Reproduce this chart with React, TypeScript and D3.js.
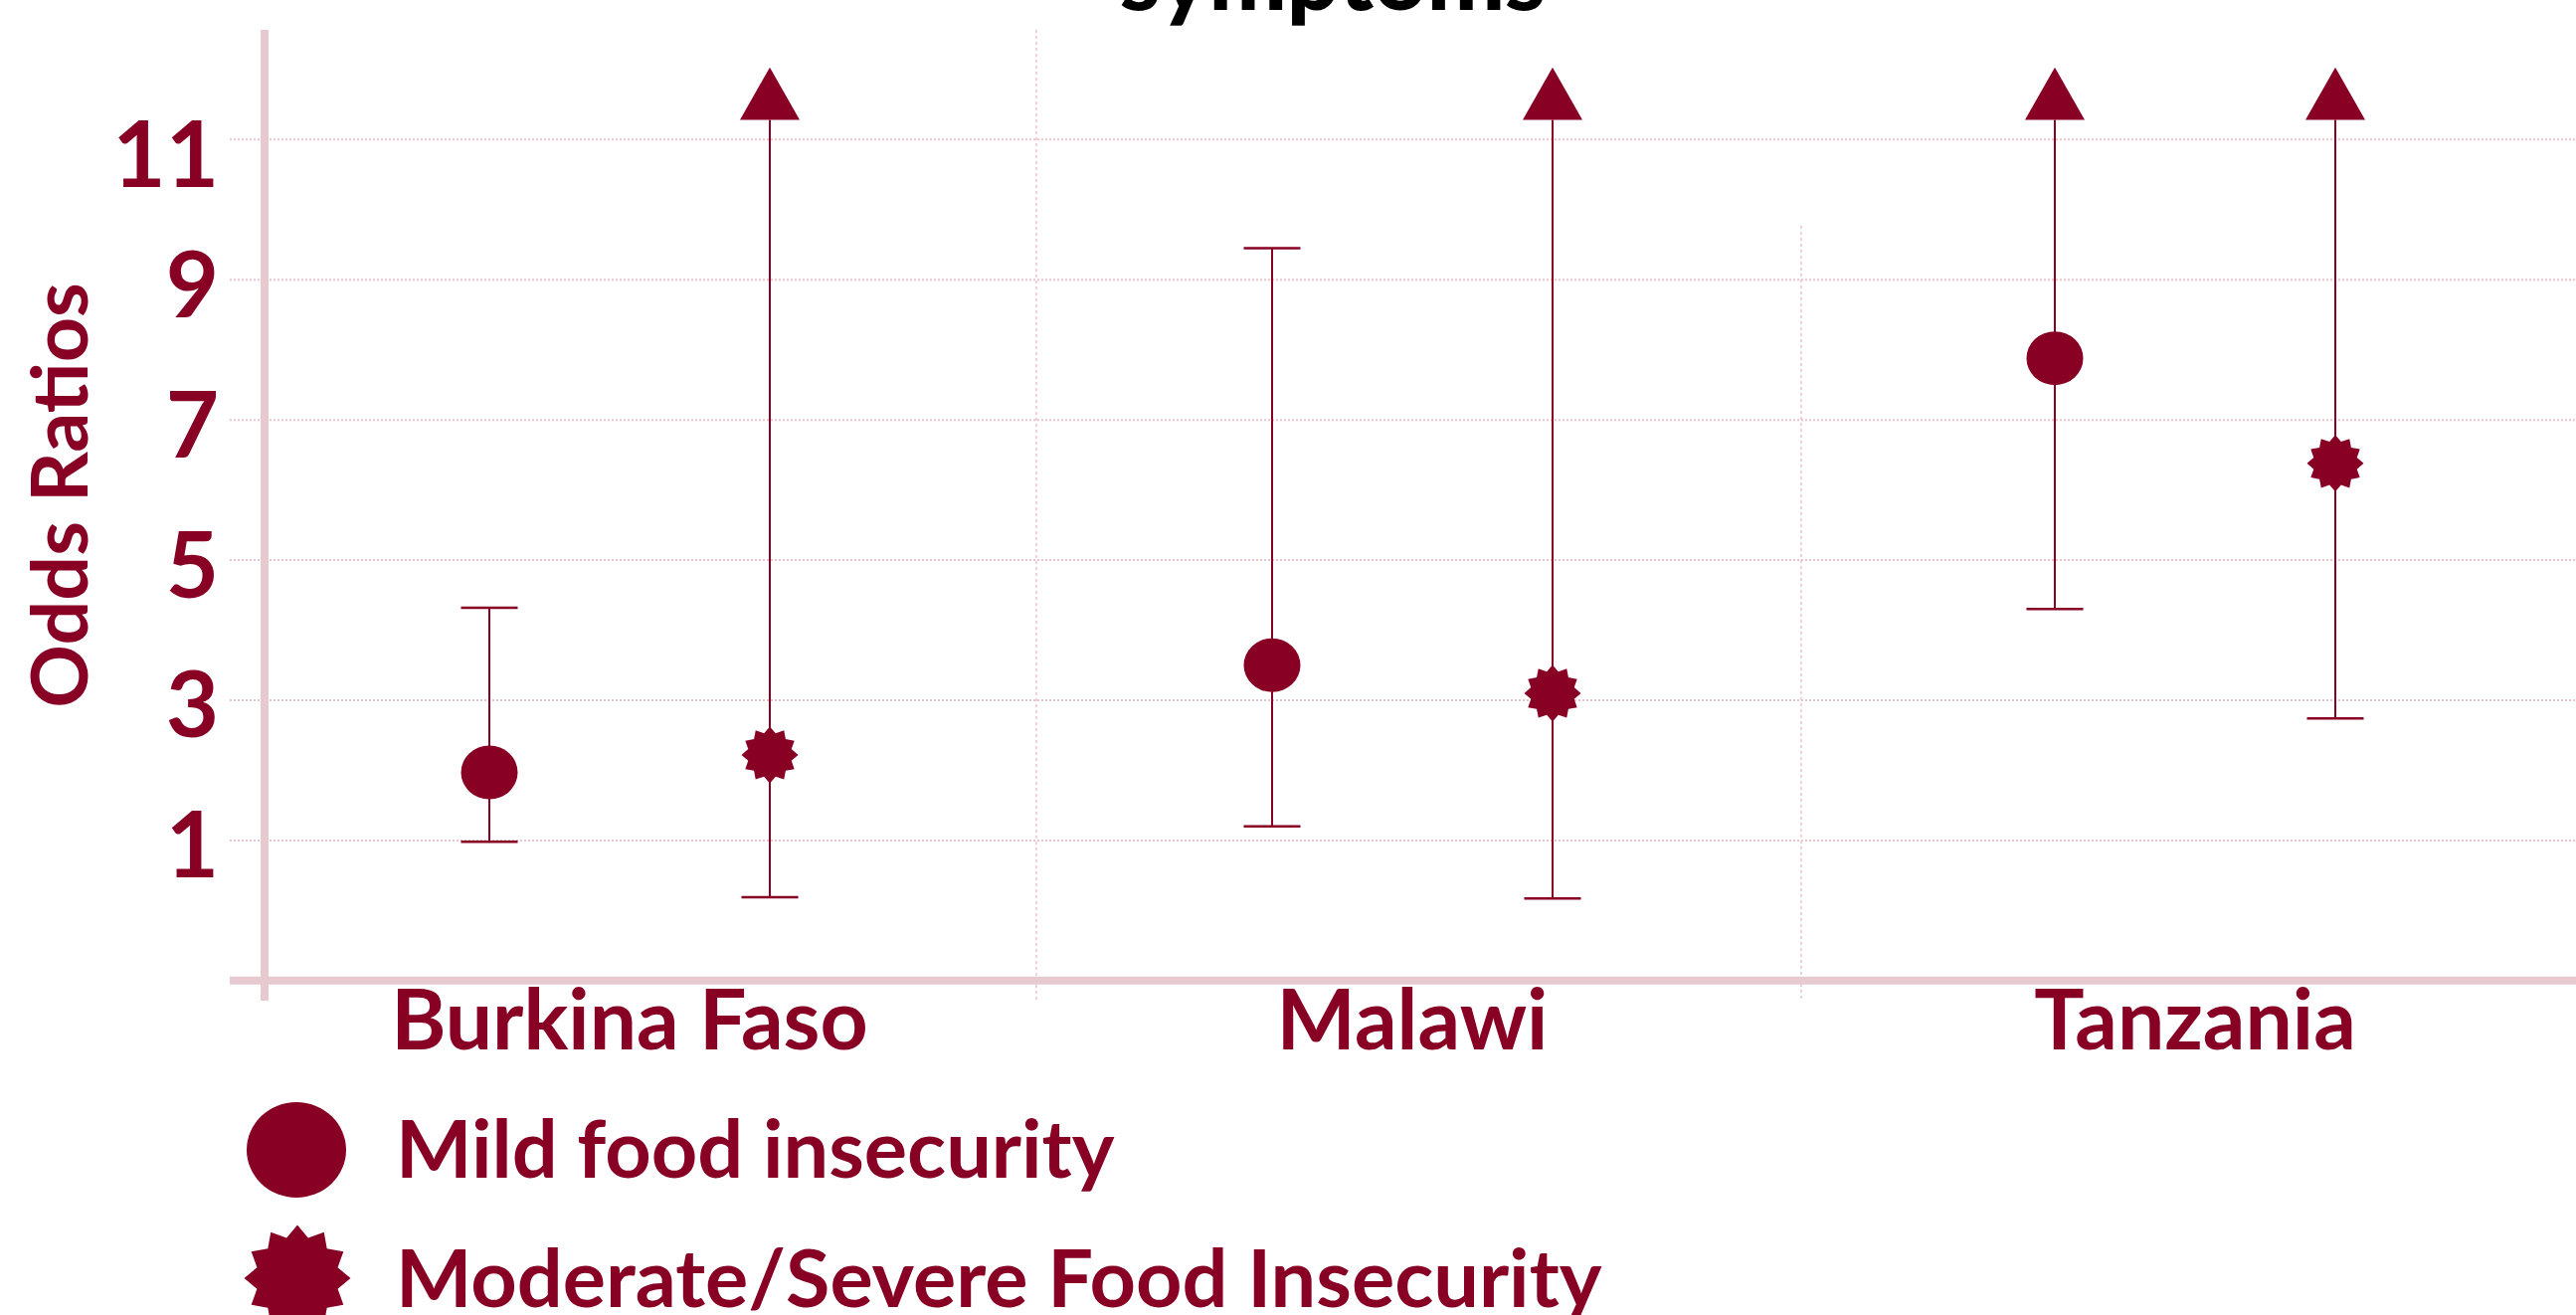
import React from "react";
import * as d3 from "d3";

const categories = ["Burkina Faso", "Malawi", "Tanzania"];
const mildOR = [1.97, 3.5, 7.88];
const mildLower = [0.98, 1.2, 4.3];
const mildUpper: (number | null)[] = [4.32, 9.45, null];
const modOR = [2.22, 3.1, 6.38];
const modLower = [0.19, 0.17, 2.74];
const modUpper: (number | null)[] = [null, null, null];
const yTicks = [1, 3, 5, 7, 9, 11];
const legendLabels = ["Mild food insecurity", "Moderate/Severe Food Insecurity"];

const W = 2590;
const H = 1322;
const RED = "#880024";
const PINK = "#e7c9d0";
const GRID = "#ebc3cb";
const FONT = "Lato, 'Open Sans', sans-serif";

const y = d3.scaleLinear().domain([-1, 11]).range([985.8, 140.3]);
const x = d3.scalePoint<string>().domain(categories).range([633, 2207]);
const OFFSET = 141;
const ARROW_BASE = 11.28;
const ARROW_TIP = 12.03;

function starPath(outer: number, inner: number, n = 12) {
  const pts: [number, number][] = [];
  for (let i = 0; i < n * 2; i++) {
    pts.push([(i * Math.PI) / n, i % 2 === 0 ? outer : inner]);
  }
  return d3.lineRadial().curve(d3.curveLinearClosed)(pts) || "";
}

type Row = { cx: number; or: number; lo: number; hi: number | null; kind: "mild" | "mod" };

export default function App() {
  const rows: Row[] = [];
  categories.forEach((c, i) => {
    const cx = x(c) as number;
    rows.push({ cx: cx - OFFSET, or: mildOR[i], lo: mildLower[i], hi: mildUpper[i], kind: "mild" });
    rows.push({ cx: cx + OFFSET, or: modOR[i], lo: modLower[i], hi: modUpper[i], kind: "mod" });
  });
  const smallStar = starPath(28.5, 22.5);
  const bigStar = starPath(53.5, 42);
  const capW = 28.5;
  const arrowHalf = 30;

  return (
    <svg
      width={W}
      height={H}
      style={{ position: "absolute", left: 0, top: 0, background: "#fff" }}
      fontFamily={FONT}
    >
      {/* title (cut off at top) */}
      <text x={1340} y={10} textAnchor="middle" fontSize={93} fontWeight={900} fill="#000">
        symptoms
      </text>

      {/* horizontal gridlines */}
      {yTicks.map((t) => (
        <line key={"g" + t} x1={231} x2={W} y1={y(t)} y2={y(t)} stroke={GRID} strokeWidth={2} strokeDasharray="2 2" />
      ))}
      {/* vertical category separators */}
      <line x1={1042} x2={1042} y1={30} y2={1005} stroke={GRID} strokeWidth={1.5} strokeDasharray="3 3" />
      <line x1={1811} x2={1811} y1={227} y2={1005} stroke={GRID} strokeWidth={1.5} strokeDasharray="3 3" />

      {/* axes */}
      <line x1={266} x2={266} y1={30} y2={1006} stroke={PINK} strokeWidth={8} />
      <line x1={231} x2={W} y1={y(-1)} y2={y(-1)} stroke={PINK} strokeWidth={8} />

      {/* y tick labels */}
      {yTicks.map((t) => (
        <text
          key={"t" + t}
          x={220}
          y={y(t) + (t === 11 ? 12 : 2)}
          textAnchor="end"
          dominantBaseline="central"
          fontSize={92}
          fontWeight={700}
          fill={RED}
        >
          {t}
        </text>
      ))}

      {/* y axis title */}
      <text
        transform={`translate(88,498) rotate(-90)`}
        textAnchor="middle"
        fontSize={79}
        fontWeight={700}
        fill={RED}
      >
        Odds Ratios
      </text>

      {/* error bars */}
      {rows.map((r, i) => {
        const top = r.hi === null ? y(ARROW_BASE) : y(r.hi);
        return (
          <g key={"r" + i}>
            <line x1={r.cx} x2={r.cx} y1={top} y2={y(r.lo)} stroke={RED} strokeWidth={2} />
            <line x1={r.cx - capW} x2={r.cx + capW} y1={y(r.lo)} y2={y(r.lo)} stroke={RED} strokeWidth={2.5} />
            {r.hi === null ? (
              <path
                d={`M${r.cx - arrowHalf},${y(ARROW_BASE)}L${r.cx},${y(ARROW_TIP)}L${r.cx + arrowHalf},${y(ARROW_BASE)}Z`}
                fill={RED}
              />
            ) : (
              <line x1={r.cx - capW} x2={r.cx + capW} y1={top} y2={top} stroke={RED} strokeWidth={2.5} />
            )}
            {r.kind === "mild" ? (
              <ellipse cx={r.cx} cy={y(r.or)} rx={28.5} ry={27} fill={RED} />
            ) : (
              <path d={smallStar} transform={`translate(${r.cx},${y(r.or)})`} fill={RED} />
            )}
          </g>
        );
      })}

      {/* category labels */}
      {categories.map((c) => (
        <text key={c} x={x(c)} y={1055} textAnchor="middle" fontSize={84} fontWeight={700} fill={RED}>
          {c}
        </text>
      ))}

      {/* legend */}
      <ellipse cx={298} cy={1156} rx={50} ry={48} fill={RED} />
      <text x={398} y={1184} fontSize={81} fontWeight={700} fill={RED}>
        {legendLabels[0]}
      </text>
      <path d={bigStar} transform="translate(299,1285)" fill={RED} />
      <text x={398} y={1314} fontSize={81} fontWeight={700} fill={RED}>
        {legendLabels[1]}
      </text>
    </svg>
  );
}
